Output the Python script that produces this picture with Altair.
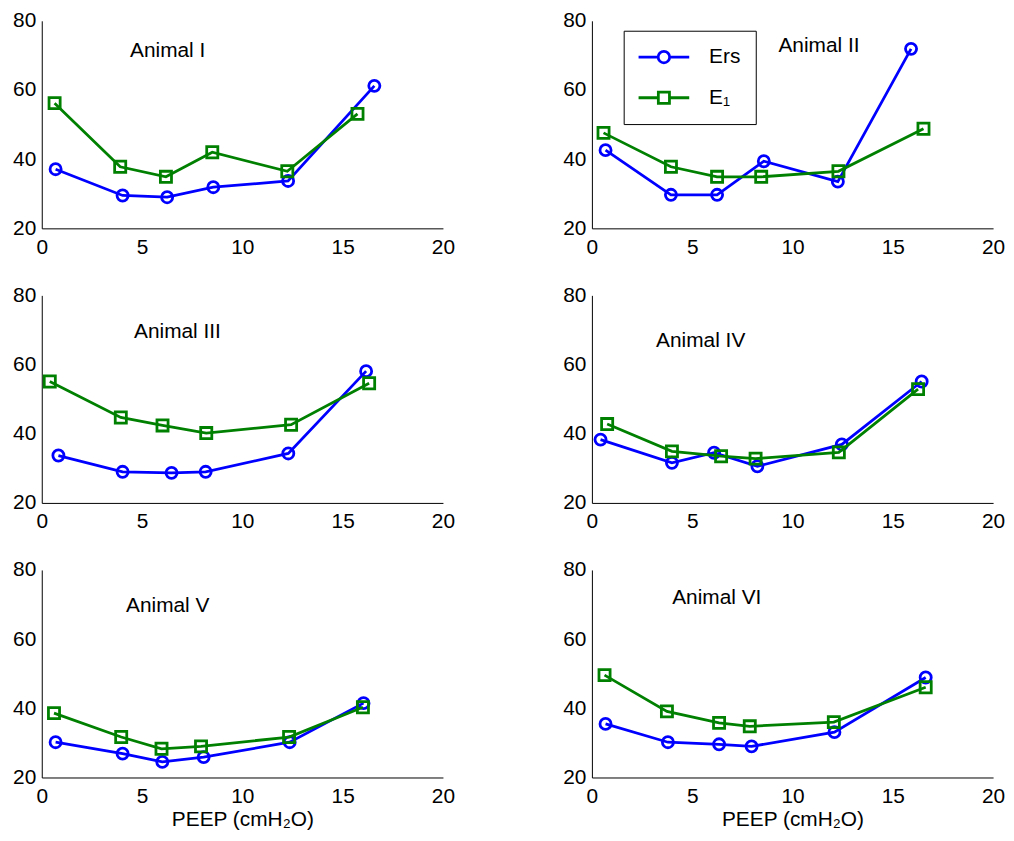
import altair as alt
import pandas as pd

ANIMALS = ["Animal I", "Animal II", "Animal III", "Animal IV", "Animal V", "Animal VI"]
SERIES = ["Ers", "E₁"]

PEEP_ERS = [
    [0.69, 4.03, 6.25, 8.55, 12.28, 16.58],
    [0.68, 3.94, 6.24, 8.57, 12.26, 15.91],
    [0.83, 4.03, 6.47, 8.17, 12.29, 16.17],
    [0.43, 3.99, 6.09, 8.25, 12.46, 16.44],
    [0.69, 4.03, 6.01, 8.07, 12.36, 16.04],
    [0.68, 3.79, 6.34, 7.96, 12.09, 16.64],
]
ERS = [
    [37.1, 29.5, 29.0, 31.9, 33.7, 61.2],
    [42.6, 29.7, 29.7, 39.4, 33.5, 71.9],
    [33.7, 29.0, 28.7, 29.0, 34.3, 58.1],
    [38.3, 31.6, 34.5, 30.6, 36.9, 55.1],
    [30.2, 26.9, 24.5, 25.9, 30.2, 41.5],
    [35.5, 30.2, 29.6, 29.0, 33.1, 48.9],
]
PEEP_E1 = [
    [0.64, 3.91, 6.19, 8.50, 12.24, 15.74],
    [0.58, 3.94, 6.24, 8.44, 12.29, 16.53],
    [0.40, 3.94, 6.02, 8.20, 12.43, 16.32],
    [0.76, 3.99, 6.44, 8.16, 12.31, 16.26],
    [0.61, 3.96, 5.97, 7.94, 12.33, 16.01],
    [0.63, 3.74, 6.34, 7.87, 12.06, 16.64],
]
E1 = [
    [56.2, 37.8, 34.9, 42.0, 36.5, 53.1],
    [47.6, 37.8, 34.9, 34.9, 36.5, 48.8],
    [55.1, 44.7, 42.4, 40.2, 42.6, 54.6],
    [42.8, 34.9, 33.5, 32.8, 34.6, 52.9],
    [38.6, 31.7, 28.3, 29.0, 31.7, 40.3],
    [49.6, 39.1, 35.8, 34.8, 36.0, 46.1],
]
# anchor of the "Animal ..." annotation in data units (PEEP, elastance)
LABEL_PEEP = [4.4, 9.3, 4.6, 3.2, 4.2, 4.0]
LABEL_VAL = [71.2, 72.6, 69.5, 66.9, 69.5, 71.8]

X_TICKS = [0, 5, 10, 15, 20]
Y_TICKS = [20, 40, 60, 80]
X_TITLE = "PEEP (cmH₂O)"

FONT = "Liberation Sans"
FS = 21
BLUE = "#0000ff"
GREEN = "#008000"
W, H = 404, 209
LW = 2.8

# legend glyphs: line with marker, drawn around a nominal 20px symbol (r = 10)
LEGEND_PATHS = [
    "M-2.55,0H-0.58M0.58,0H2.55M0.58,0A0.58,0.58 0 1,1 -0.58,0A0.58,0.58 0 1,1 0.58,0",
    "M-2.55,0H-0.56M0.56,0H2.55M-0.56,-0.56H0.56V0.56H-0.56Z",
]
NBSP = "\u00a0"


def panel(i):
    ers = pd.DataFrame({"peep": PEEP_ERS[i], "value": ERS[i], "series": SERIES[0]})
    e1 = pd.DataFrame({"peep": PEEP_E1[i], "value": E1[i], "series": SERIES[1]})
    lab = pd.DataFrame({"peep": [LABEL_PEEP[i]], "value": [LABEL_VAL[i]], "text": [ANIMALS[i]]})
    bottom = i >= 4
    xax = alt.Axis(values=X_TICKS, labelFlush=False, labelPadding=8,
                   title=X_TITLE if bottom else "", titlePadding=2)
    yax = alt.Axis(values=Y_TICKS, labelPadding=6, title="")
    x = alt.X("peep:Q", scale=alt.Scale(domain=[0, 20], nice=False), axis=xax)
    y = alt.Y("value:Q", scale=alt.Scale(domain=[20, 80], nice=False), axis=yax)

    def series_layers(df, color, shape):
        ln = alt.Chart(df).mark_line(color=color, strokeWidth=LW).encode(x=x, y=y)
        pt = alt.Chart(df).mark_point(shape=shape, color=color, filled=False, size=125,
                                      strokeWidth=LW, opacity=1).encode(x=x, y=y)
        return [ln, pt]

    layers = series_layers(ers, BLUE, "circle") + series_layers(e1, GREEN, "square")
    layers.append(
        alt.Chart(lab).mark_text(align="left", baseline="middle", font=FONT, fontSize=FS,
                                 color="black").encode(x=x, y=y, text="text:N")
    )
    if i == 1:
        both = pd.concat([ers, e1], ignore_index=True)
        leg = alt.Legend(
            orient="none", legendX=32, legendY=10, title=None,
            strokeColor="black", fillColor="white", padding=15, cornerRadius=0,
            symbolSize=400, symbolStrokeWidth=LW, symbolOpacity=1, symbolOffset=14,
            symbolFillColor="transparent",
            labelFont=FONT, labelFontSize=FS, labelColor="black", labelOffset=34,
            rowPadding=18, labelExpr="datum.label + '" + NBSP * 8 + "'",
        )
        layers.append(
            alt.Chart(both).mark_point(filled=False, opacity=0, strokeWidth=LW).encode(
                x=x, y=y,
                stroke=alt.Stroke("series:N", scale=alt.Scale(domain=SERIES, range=[BLUE, GREEN]), legend=leg),
                shape=alt.Shape("series:N", scale=alt.Scale(domain=SERIES, range=LEGEND_PATHS), legend=leg),
            )
        )
    return alt.layer(*layers).properties(width=W, height=H)


chart = (
    alt.concat(*[panel(i) for i in range(6)], columns=2, spacing={"row": 67.5, "column": 150})
    .properties(bounds="flush", padding={"left": 4, "top": -2, "right": 0, "bottom": 0})
    .resolve_scale(shape="independent", stroke="independent")
    .configure_view(stroke="transparent")
    .configure_axis(
        domainColor="black", domainWidth=1, ticks=False, grid=False,
        labelFont=FONT, labelFontSize=FS, labelColor="black",
        titleFont=FONT, titleFontSize=FS, titleFontWeight="normal", titleColor="black",
    )
)

chart.save("out.html", embed_options={"renderer": "svg", "actions": False})
